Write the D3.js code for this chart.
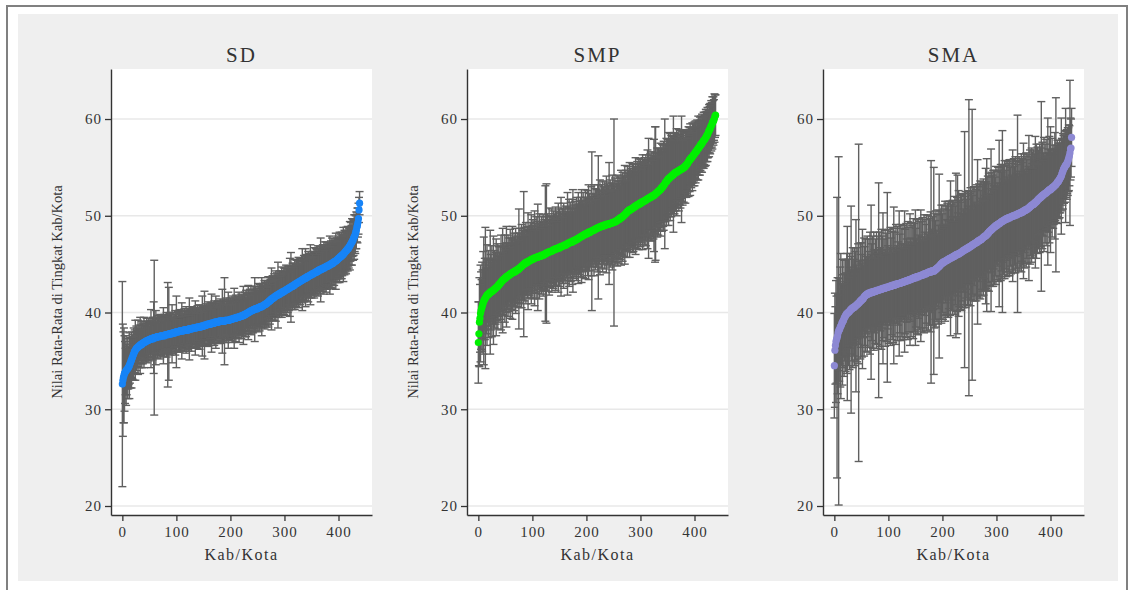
<!DOCTYPE html>
<html>
<head>
<meta charset="utf-8">
<script src="https://cdn.jsdelivr.net/npm/d3@7/dist/d3.min.js"></script>
<style>
body { margin: 0; background: #fff; }
text { font-family: "Liberation Serif", "Times New Roman", serif; fill: #333; }
</style>
</head>
<body>
<div id="chart"></div>
<script>
// rata-rata per kab/kota (sudah diurutkan) dan setengah lebar interval
var sdMean = [
32.6,33.0,33.3,33.5,33.7,33.8,33.9,34.0,34.1,34.1,34.2,34.3,34.4,34.5,34.7,34.8,35.0,35.1,35.3,35.4,
35.6,35.7,35.9,36.0,36.1,36.2,36.3,36.3,36.4,36.4,36.5,36.5,36.6,36.6,36.7,36.7,36.7,36.8,36.8,36.9,
36.9,36.9,37.0,37.0,37.0,37.1,37.1,37.1,37.1,37.2,37.2,37.2,37.2,37.3,37.3,37.3,37.3,37.3,37.4,37.4,
37.4,37.4,37.4,37.4,37.5,37.5,37.5,37.5,37.5,37.5,37.5,37.6,37.6,37.6,37.6,37.6,37.6,37.6,37.6,37.7,
37.7,37.7,37.7,37.7,37.7,37.7,37.8,37.8,37.8,37.8,37.8,37.8,37.8,37.9,37.9,37.9,37.9,37.9,37.9,38.0,
38.0,38.0,38.0,38.0,38.0,38.0,38.1,38.1,38.1,38.1,38.1,38.1,38.1,38.1,38.2,38.2,38.2,38.2,38.2,38.2,
38.2,38.2,38.2,38.3,38.3,38.3,38.3,38.3,38.3,38.3,38.4,38.4,38.4,38.4,38.4,38.4,38.4,38.4,38.5,38.5,
38.5,38.5,38.5,38.5,38.5,38.5,38.6,38.6,38.6,38.6,38.6,38.6,38.7,38.7,38.7,38.7,38.7,38.7,38.8,38.8,
38.8,38.8,38.8,38.8,38.8,38.9,38.9,38.9,38.9,38.9,38.9,39.0,39.0,39.0,39.0,39.0,39.0,39.0,39.0,39.1,
39.1,39.1,39.1,39.1,39.1,39.1,39.1,39.1,39.1,39.1,39.2,39.2,39.2,39.2,39.2,39.2,39.2,39.2,39.2,39.3,
39.3,39.3,39.3,39.3,39.3,39.4,39.4,39.4,39.4,39.4,39.4,39.5,39.5,39.5,39.5,39.5,39.5,39.6,39.6,39.6,
39.6,39.6,39.7,39.7,39.7,39.7,39.8,39.8,39.8,39.9,39.9,39.9,40.0,40.0,40.0,40.1,40.1,40.1,40.2,40.2,
40.2,40.2,40.3,40.3,40.3,40.3,40.4,40.4,40.4,40.4,40.4,40.5,40.5,40.5,40.5,40.6,40.6,40.6,40.6,40.7,
40.7,40.7,40.8,40.8,40.8,40.9,40.9,40.9,41.0,41.0,41.1,41.1,41.2,41.2,41.3,41.3,41.4,41.4,41.5,41.5,
41.5,41.6,41.6,41.7,41.7,41.7,41.8,41.8,41.8,41.9,41.9,41.9,42.0,42.0,42.0,42.1,42.1,42.1,42.2,42.2,
42.2,42.3,42.3,42.3,42.4,42.4,42.4,42.5,42.5,42.5,42.6,42.6,42.6,42.7,42.7,42.7,42.8,42.8,42.8,42.9,
42.9,43.0,43.0,43.0,43.1,43.1,43.1,43.2,43.2,43.2,43.3,43.3,43.3,43.4,43.4,43.4,43.5,43.5,43.5,43.6,
43.6,43.6,43.7,43.7,43.7,43.8,43.8,43.8,43.9,43.9,43.9,44.0,44.0,44.0,44.0,44.1,44.1,44.1,44.2,44.2,
44.2,44.3,44.3,44.3,44.4,44.4,44.4,44.4,44.5,44.5,44.5,44.6,44.6,44.6,44.6,44.7,44.7,44.7,44.8,44.8,
44.8,44.8,44.9,44.9,44.9,45.0,45.0,45.0,45.1,45.1,45.1,45.2,45.2,45.3,45.3,45.3,45.4,45.4,45.5,45.5,
45.6,45.6,45.7,45.7,45.8,45.8,45.9,45.9,46.0,46.0,46.1,46.2,46.2,46.3,46.4,46.4,46.5,46.6,46.6,46.7,
46.8,46.9,47.0,47.1,47.2,47.3,47.4,47.5,47.7,47.8,47.9,48.1,48.3,48.5,48.8,49.0,49.3,49.7,50.6,51.3];
var sdErr = [
10.6,5.8,4.7,4.9,3.9,3.2,2.4,3.6,2.6,2.0,3.1,2.2,1.8,3.4,2.0,2.6,1.7,2.9,2.1,2.3,
1.9,2.7,1.6,2.2,3.1,1.8,2.3,1.5,2.0,2.8,1.7,2.2,1.5,2.9,1.6,2.0,2.4,1.5,2.1,1.8,
2.6,1.7,1.5,2.1,1.9,2.3,1.4,2.0,1.7,2.2,1.4,2.0,1.8,3.0,1.5,1.9,2.2,1.6,3.7,8.0,
1.6,2.1,2.8,1.5,1.9,2.2,1.6,2.0,1.8,1.4,2.3,1.7,2.0,1.5,2.1,1.6,2.9,1.8,2.2,1.5,
2.0,1.7,2.3,1.4,5.4,1.9,4.8,2.1,1.6,2.2,1.5,2.0,3.0,1.6,2.1,1.5,1.9,1.4,2.3,2.0,
3.7,1.6,1.5,2.1,1.9,1.5,2.2,1.4,2.0,1.7,2.9,1.5,2.1,1.8,1.6,2.2,1.4,1.9,2.4,1.7,
2.0,1.5,2.2,1.7,3.2,1.4,2.0,1.6,2.3,1.9,1.5,2.1,1.7,2.0,1.6,2.8,1.5,2.0,1.7,2.2,
1.6,2.0,1.4,2.3,1.9,1.6,2.1,1.5,3.1,1.8,2.0,1.4,3.5,1.9,1.6,2.2,1.5,2.0,1.7,2.3,
1.6,2.0,1.5,2.2,1.8,3.0,1.4,2.1,1.6,2.0,2.3,1.5,1.9,2.7,1.7,2.1,1.5,2.2,1.6,2.0,
1.8,2.3,1.5,2.1,1.7,3.3,1.6,2.0,2.2,4.5,1.7,1.5,2.3,1.9,2.1,1.6,2.9,1.5,2.0,1.8,
2.2,1.6,2.0,2.4,1.5,2.1,1.8,3.1,1.6,2.0,2.4,1.7,2.1,1.5,2.2,1.8,2.6,1.6,2.0,1.8,
2.3,1.5,2.1,1.8,3.0,1.6,2.0,2.3,1.7,2.4,1.5,2.1,1.9,2.8,1.6,2.0,2.3,1.7,2.5,1.6,
2.2,1.8,2.4,1.6,2.0,3.3,1.7,2.3,1.6,2.1,1.8,2.5,1.6,2.0,2.4,1.7,2.1,1.6,3.0,1.9,
2.3,1.7,2.0,2.5,1.6,2.2,2.4,1.8,2.3,1.6,2.6,2.0,1.7,2.4,2.1,1.6,3.2,1.8,2.3,2.0,
1.8,2.4,2.1,1.7,2.6,2.0,2.3,1.8,3.4,1.9,2.1,2.4,1.7,2.3,2.0,2.6,1.8,2.1,1.9,2.4,
2.0,2.3,1.8,2.6,2.1,1.9,2.4,1.7,2.3,2.0,3.0,1.8,3.6,2.1,1.9,2.4,2.0,2.3,1.8,2.6,
2.1,1.9,2.4,2.0,2.3,1.8,2.6,2.1,1.9,2.4,1.7,2.3,2.0,3.2,1.9,2.1,2.4,1.8,2.3,3.0,
2.0,2.4,1.9,2.1,2.6,1.8,2.3,2.0,3.1,1.9,2.4,2.1,1.7,2.3,2.0,2.6,1.9,2.1,2.4,1.8,
2.3,2.0,2.6,1.9,2.1,2.4,1.8,3.3,2.0,2.3,1.9,2.4,2.1,2.7,1.8,2.3,2.0,2.6,1.9,2.1,
2.4,1.9,2.3,2.0,3.0,1.8,2.4,2.1,2.6,1.9,2.3,2.0,2.4,1.8,2.1,2.9,1.9,2.3,2.0,2.4,
2.1,1.9,2.6,2.0,2.3,1.8,2.4,2.1,1.9,2.8,2.0,2.3,1.8,2.1,2.4,1.9,2.0,2.3,1.8,2.1,
1.9,2.5,1.7,2.2,1.8,2.4,1.6,2.1,1.8,2.3,1.6,2.0,1.7,1.9,1.5,1.8,1.5,1.6,1.3,1.2];

var smpMean = [
36.9,37.8,39.0,39.4,39.9,40.2,40.4,40.6,40.8,41.0,41.2,41.3,41.4,41.5,41.6,41.7,41.8,41.8,41.9,41.9,
42.0,42.0,42.1,42.1,42.2,42.2,42.2,42.3,42.3,42.4,42.4,42.5,42.5,42.6,42.6,42.7,42.7,42.8,42.9,42.9,
43.0,43.1,43.1,43.2,43.3,43.3,43.4,43.4,43.5,43.5,43.6,43.6,43.7,43.7,43.8,43.8,43.8,43.9,43.9,44.0,
44.0,44.0,44.1,44.1,44.1,44.2,44.2,44.2,44.3,44.3,44.3,44.4,44.4,44.4,44.5,44.5,44.6,44.6,44.7,44.7,
44.8,44.8,44.9,44.9,45.0,45.0,45.1,45.1,45.1,45.2,45.2,45.2,45.3,45.3,45.3,45.4,45.4,45.4,45.5,45.5,
45.5,45.5,45.6,45.6,45.6,45.6,45.7,45.7,45.7,45.7,45.7,45.8,45.8,45.8,45.8,45.8,45.9,45.9,45.9,45.9,
45.9,46.0,46.0,46.0,46.1,46.1,46.1,46.2,46.2,46.2,46.2,46.3,46.3,46.3,46.3,46.3,46.4,46.4,46.4,46.5,
46.5,46.5,46.5,46.6,46.6,46.6,46.6,46.6,46.7,46.7,46.7,46.7,46.8,46.8,46.8,46.8,46.9,46.9,46.9,46.9,
47.0,47.0,47.0,47.0,47.1,47.1,47.1,47.2,47.2,47.2,47.2,47.3,47.3,47.3,47.3,47.4,47.4,47.4,47.4,47.5,
47.5,47.5,47.6,47.6,47.6,47.7,47.7,47.7,47.8,47.8,47.8,47.9,47.9,47.9,48.0,48.0,48.0,48.1,48.1,48.1,
48.1,48.2,48.2,48.2,48.3,48.3,48.3,48.3,48.4,48.4,48.4,48.5,48.5,48.5,48.5,48.6,48.6,48.6,48.7,48.7,
48.7,48.7,48.8,48.8,48.8,48.8,48.9,48.9,48.9,48.9,48.9,49.0,49.0,49.0,49.0,49.0,49.1,49.1,49.1,49.1,
49.1,49.1,49.2,49.2,49.2,49.2,49.2,49.3,49.3,49.3,49.3,49.3,49.4,49.4,49.4,49.4,49.5,49.5,49.6,49.6,
49.6,49.7,49.7,49.8,49.8,49.8,49.9,49.9,50.0,50.0,50.1,50.1,50.2,50.2,50.3,50.4,50.4,50.5,50.5,50.6,
50.6,50.6,50.7,50.7,50.7,50.8,50.8,50.8,50.9,50.9,51.0,51.0,51.0,51.1,51.1,51.1,51.2,51.2,51.2,51.3,
51.3,51.3,51.4,51.4,51.4,51.5,51.5,51.5,51.6,51.6,51.6,51.7,51.7,51.7,51.8,51.8,51.8,51.9,51.9,51.9,
52.0,52.0,52.0,52.1,52.1,52.1,52.2,52.2,52.3,52.3,52.4,52.4,52.5,52.5,52.6,52.6,52.7,52.7,52.8,52.9,
52.9,53.0,53.1,53.1,53.2,53.3,53.4,53.5,53.5,53.6,53.7,53.8,53.8,53.9,53.9,54.0,54.0,54.1,54.1,54.2,
54.2,54.3,54.3,54.4,54.4,54.5,54.5,54.5,54.6,54.6,54.6,54.7,54.7,54.7,54.8,54.8,54.8,54.9,54.9,54.9,
55.0,55.0,55.1,55.1,55.2,55.3,55.3,55.4,55.5,55.6,55.7,55.8,55.8,55.9,56.0,56.0,56.1,56.2,56.3,56.3,
56.4,56.5,56.6,56.6,56.7,56.8,56.9,57.0,57.0,57.1,57.2,57.3,57.4,57.4,57.5,57.6,57.7,57.8,57.8,57.9,
58.0,58.1,58.2,58.3,58.4,58.5,58.7,58.8,58.9,59.0,59.2,59.3,59.4,59.6,59.7,59.8,59.9,60.1,60.3,60.4];
var smpErr = [
4.2,3.3,4.6,3.5,5.0,4.0,3.0,4.6,3.6,5.3,6.6,3.1,4.2,7.3,3.0,3.9,5.2,2.8,3.6,4.5,
3.4,2.9,6.4,3.9,3.0,4.7,3.4,2.8,5.6,3.2,4.0,2.9,3.7,5.0,2.8,3.5,4.4,3.0,3.9,3.3,
2.9,3.8,4.9,3.0,3.5,5.4,2.8,3.7,3.2,4.5,2.9,3.6,5.2,3.0,3.4,4.2,3.1,3.8,2.8,4.6,
3.2,3.7,2.9,4.8,3.4,3.0,4.0,3.6,2.8,4.4,3.3,3.0,3.8,3.5,2.9,6.2,3.6,4.1,3.0,3.4,
4.3,3.0,3.6,2.9,7.5,3.8,3.2,3.0,4.2,3.4,2.8,3.7,5.0,3.1,3.5,2.9,3.9,3.2,4.6,3.0,
3.5,4.1,2.9,3.3,4.9,3.6,3.0,4.2,2.8,3.7,5.5,3.1,3.4,4.4,2.9,3.6,3.2,4.0,3.0,3.5,
4.2,2.9,3.6,3.2,7.0,3.8,7.2,3.0,4.0,3.4,2.8,4.5,3.2,3.7,3.0,3.6,4.3,3.1,3.4,4.0,
2.9,3.7,3.2,4.3,3.0,3.8,3.4,2.8,4.6,3.2,4.0,3.1,3.6,5.1,3.0,3.4,3.9,2.9,4.4,3.3,
3.7,3.1,4.0,3.4,2.9,5.3,3.8,3.2,4.5,3.0,3.6,4.1,3.1,3.4,4.4,5.3,3.0,3.7,3.3,4.0,
3.4,2.9,4.3,3.6,3.1,4.7,3.3,3.8,3.0,4.1,3.4,4.8,3.1,3.7,4.4,3.3,3.0,3.8,4.6,3.4,
3.8,3.1,4.4,3.4,4.9,3.3,4.0,3.0,3.6,4.6,8.2,3.4,3.8,3.1,4.7,3.6,3.3,4.2,3.0,4.0,
3.4,4.5,7.4,3.3,3.8,4.9,3.1,3.6,4.3,3.4,4.7,3.3,4.0,3.1,4.5,3.6,3.8,5.0,3.3,4.2,
3.6,4.0,6.3,3.4,4.5,3.3,4.2,3.8,4.9,3.4,4.0,10.7,3.6,4.5,3.3,4.2,3.8,4.7,3.4,4.0,
4.5,3.6,4.2,3.3,4.9,3.8,4.0,4.6,3.4,4.2,3.6,5.1,3.8,4.5,3.3,4.0,4.7,3.6,4.2,3.8,
4.9,3.4,4.2,4.0,3.6,4.6,3.8,4.5,3.3,4.2,3.6,5.0,4.0,3.4,4.5,3.8,4.2,4.7,3.6,4.0,
4.5,3.8,4.2,3.4,4.9,4.0,3.6,4.5,3.8,4.2,4.7,3.6,4.0,5.1,3.8,6.2,4.2,3.4,4.5,4.0,
3.8,4.6,4.2,3.6,4.5,5.8,4.0,7.0,6.9,4.2,3.6,4.6,4.0,4.5,3.8,4.2,3.4,4.8,3.8,4.0,
4.5,3.6,4.2,4.6,3.8,6.7,4.0,3.4,4.5,3.8,4.2,3.6,4.8,4.0,3.4,4.5,3.8,4.2,3.6,4.0,
3.4,6.0,3.8,4.2,3.1,4.0,3.6,4.5,3.0,3.8,3.4,4.2,3.1,3.6,4.0,3.0,5.5,3.4,3.8,2.9,
3.6,3.1,2.8,3.8,2.9,3.4,2.7,3.4,3.0,3.6,2.6,3.3,3.7,2.7,3.1,2.6,3.5,2.8,3.2,2.7,
3.3,2.6,3.2,2.8,2.5,3.1,2.7,3.3,2.8,2.5,3.0,2.6,2.9,2.4,3.0,2.6,2.4,2.9,2.5,2.8,
2.4,2.9,2.6,2.3,2.8,2.5,2.2,2.7,2.4,2.6,2.2,2.6,2.3,2.7,2.2,2.5,2.1,2.5,2.2,2.1];

var smaMean = [
34.5,36.1,36.6,37.0,37.2,37.4,37.6,37.9,38.1,38.2,38.3,38.5,38.6,38.7,38.9,39.0,39.1,39.2,39.4,39.5,
39.6,39.7,39.8,39.9,39.9,40.0,40.0,40.1,40.1,40.2,40.3,40.3,40.4,40.4,40.5,40.5,40.5,40.6,40.6,40.7,
40.7,40.8,40.8,40.9,40.9,41.0,41.0,41.1,41.2,41.2,41.3,41.3,41.4,41.4,41.5,41.6,41.7,41.7,41.8,41.8,
41.9,41.9,41.9,42.0,42.0,42.0,42.0,42.0,42.1,42.1,42.1,42.1,42.1,42.2,42.2,42.2,42.2,42.2,42.3,42.3,
42.3,42.3,42.3,42.3,42.4,42.4,42.4,42.4,42.4,42.5,42.5,42.5,42.5,42.5,42.5,42.6,42.6,42.6,42.6,42.6,
42.6,42.7,42.7,42.7,42.7,42.7,42.8,42.8,42.8,42.8,42.8,42.8,42.9,42.9,42.9,42.9,42.9,43.0,43.0,43.0,
43.0,43.0,43.0,43.1,43.1,43.1,43.1,43.1,43.2,43.2,43.2,43.2,43.2,43.3,43.3,43.3,43.3,43.3,43.4,43.4,
43.4,43.4,43.4,43.5,43.5,43.5,43.5,43.6,43.6,43.6,43.6,43.6,43.7,43.7,43.7,43.7,43.7,43.8,43.8,43.8,
43.8,43.8,43.9,43.9,43.9,43.9,44.0,44.0,44.0,44.0,44.0,44.1,44.1,44.1,44.1,44.2,44.2,44.2,44.2,44.2,
44.3,44.3,44.3,44.3,44.3,44.3,44.4,44.4,44.5,44.5,44.6,44.6,44.7,44.7,44.8,44.8,44.9,45.0,45.0,45.1,
45.1,45.2,45.2,45.2,45.3,45.3,45.3,45.4,45.4,45.4,45.5,45.5,45.5,45.6,45.6,45.6,45.6,45.7,45.7,45.7,
45.8,45.8,45.8,45.9,45.9,45.9,46.0,46.0,46.0,46.0,46.1,46.1,46.1,46.2,46.2,46.2,46.3,46.3,46.4,46.4,
46.4,46.5,46.5,46.5,46.6,46.6,46.6,46.7,46.7,46.7,46.8,46.8,46.8,46.9,46.9,47.0,47.0,47.0,47.1,47.1,
47.1,47.2,47.2,47.2,47.3,47.3,47.4,47.4,47.4,47.5,47.5,47.5,47.6,47.6,47.7,47.7,47.8,47.8,47.9,47.9,
47.9,48.0,48.0,48.1,48.2,48.2,48.3,48.4,48.4,48.5,48.5,48.6,48.6,48.7,48.7,48.8,48.8,48.9,48.9,49.0,
49.0,49.0,49.1,49.1,49.2,49.2,49.2,49.3,49.3,49.4,49.4,49.4,49.5,49.5,49.5,49.6,49.6,49.6,49.7,49.7,
49.7,49.7,49.8,49.8,49.8,49.8,49.9,49.9,49.9,49.9,50.0,50.0,50.0,50.0,50.0,50.1,50.1,50.1,50.1,50.2,
50.2,50.2,50.2,50.3,50.3,50.3,50.3,50.4,50.4,50.4,50.5,50.5,50.5,50.6,50.6,50.6,50.7,50.7,50.7,50.8,
50.8,50.9,50.9,51.0,51.0,51.1,51.1,51.1,51.2,51.2,51.3,51.3,51.4,51.4,51.5,51.5,51.6,51.7,51.7,51.8,
51.8,51.9,51.9,52.0,52.0,52.1,52.1,52.2,52.2,52.3,52.3,52.3,52.4,52.4,52.5,52.5,52.6,52.6,52.7,52.7,
52.7,52.8,52.8,52.9,52.9,53.0,53.0,53.1,53.1,53.2,53.2,53.3,53.4,53.5,53.5,53.6,53.7,53.8,53.9,54.0,
54.1,54.3,54.5,54.6,54.8,54.9,55.0,55.1,55.2,55.3,55.3,55.5,55.6,55.8,56.0,56.2,56.5,56.9,57.0,58.1];
var smaErr = [
5.4,5.9,4.0,6.3,4.5,14.5,6.0,3.9,18.0,5.3,3.6,6.2,7.5,4.2,3.5,6.5,4.8,3.8,6.0,4.5,
3.6,5.8,4.3,6.2,9.0,3.7,5.5,3.5,6.0,4.5,4.0,10.7,5.4,3.4,6.2,3.9,5.0,6.1,3.6,5.6,
8.9,4.1,5.9,3.6,6.2,16.4,4.3,3.5,6.0,4.8,3.8,5.9,7.2,4.0,3.4,6.1,5.1,3.7,5.8,4.0,
3.5,6.0,4.4,3.7,5.6,3.4,6.3,4.0,9.0,5.0,3.6,5.8,3.5,6.1,4.3,3.9,5.4,3.4,6.0,4.1,
3.8,5.6,11.1,3.6,5.9,4.3,3.4,6.2,4.0,5.4,7.8,3.7,5.1,3.5,6.0,3.9,5.6,3.5,9.8,4.3,
3.6,5.9,4.0,3.5,6.1,5.0,3.7,5.6,3.4,5.9,8.1,3.9,5.4,3.6,6.2,4.0,3.5,5.9,4.3,3.7,
7.5,5.1,3.5,6.0,4.0,5.6,3.6,5.9,3.9,3.4,7.3,5.4,3.7,5.9,4.3,3.5,6.1,4.0,5.4,3.6,
6.8,4.3,5.9,3.7,5.5,3.5,6.2,4.0,5.6,3.6,7.0,5.1,3.9,5.9,3.5,6.0,4.3,3.7,5.6,4.0,
6.8,3.6,5.5,5.9,3.9,3.5,6.1,4.3,5.6,3.6,5.1,6.0,4.0,3.5,5.9,3.9,5.5,3.7,6.2,11.5,
4.3,3.6,5.6,4.0,10.7,5.9,3.7,5.1,6.0,3.9,5.5,3.5,5.9,4.3,9.5,3.7,5.6,4.0,6.1,3.6,
5.1,5.9,3.9,5.5,3.6,6.2,4.3,5.6,3.7,5.9,4.0,6.0,5.1,3.9,5.9,8.0,4.3,5.5,3.7,5.9,
4.0,5.6,3.6,6.1,5.1,8.5,3.9,5.9,8.2,4.3,6.5,5.5,3.7,5.9,4.0,6.0,5.1,3.9,5.9,4.3,
5.6,12.2,4.0,6.0,5.1,3.7,5.9,4.3,5.9,15.3,3.9,5.5,6.1,4.0,5.6,14.0,5.1,3.6,5.9,4.3,
5.9,3.9,5.5,6.0,4.0,8.5,5.6,3.7,5.9,4.3,6.1,5.1,3.9,5.9,5.5,4.0,6.0,4.3,5.6,3.7,
7.0,5.5,7.9,4.0,5.9,5.1,6.1,3.9,5.6,4.3,8.4,5.9,4.0,5.5,6.0,4.3,5.9,3.9,5.1,6.1,
4.0,5.6,4.3,5.9,3.9,8.6,5.5,4.0,6.0,5.1,5.9,9.4,4.3,5.6,3.9,6.1,5.1,4.0,6.0,5.5,
4.3,5.9,3.9,5.6,6.0,4.0,5.1,5.9,4.3,5.5,6.8,3.9,5.9,5.1,4.0,6.0,5.5,4.3,5.6,10.2,
5.1,3.9,5.9,4.3,5.6,4.0,6.1,5.1,5.5,3.9,7.0,5.9,4.3,5.5,4.0,5.9,5.1,3.7,5.6,4.3,
7.5,4.0,5.9,5.1,3.9,5.9,4.3,5.5,3.7,5.6,5.1,4.0,6.8,4.3,5.9,3.9,5.5,3.6,5.1,4.0,
5.6,3.7,5.1,9.8,4.0,5.5,3.6,4.3,5.9,3.9,5.1,3.7,5.5,4.0,3.6,7.6,4.3,3.9,5.5,3.6,
6.5,4.0,3.7,5.1,3.5,4.3,3.9,3.6,5.5,3.7,9.0,4.0,3.5,4.3,3.6,3.9,3.4,4.0,3.6,3.5,
6.0,3.7,3.4,3.9,3.5,3.6,3.3,3.7,5.9,3.4,3.6,3.2,3.5,3.3,3.4,3.1,7.5,3.2,3.0,3.0];

var titles = ["SD", "SMP", "SMA"];
var colors = ["#1784f7", "#00f000", "#8d89d3"];
var yTicks = [20, 30, 40, 50, 60];
var xTicks = [0, 100, 200, 300, 400];
var yLabel = "Nilai Rata-Rata di Tingkat Kab/Kota";
var xLabel = "Kab/Kota";

var panels = [
    {title: titles[0], mean: sdMean, err: sdErr, color: colors[0], ylab: true},
    {title: titles[1], mean: smpMean, err: smpErr, color: colors[1], ylab: true},
    {title: titles[2], mean: smaMean, err: smaErr, color: colors[2], ylab: false}
];

var W = 1128, H = 590;
var plotLeft = [111, 467, 823],
    plotW = 261,
    plotTop = 69,
    plotBottom = 515;

var svg = d3.select("#chart").append("svg")
    .attr("width", W)
    .attr("height", H);

// bingkai luar + latar abu-abu
svg.append("rect").attr("x", 7).attr("y", 6).attr("width", 1120).attr("height", 600)
    .attr("fill", "#fff").attr("stroke", "#808080").attr("stroke-width", 2);
svg.append("rect").attr("x", 18).attr("y", 14).attr("width", 1100).attr("height", 567)
    .attr("fill", "#efefef");

var y = d3.scaleLinear()
    .domain([19.07, 65.17])
    .range([plotBottom, plotTop]);

panels.forEach(function(p, k){
    var x0 = plotLeft[k];
    var x = d3.scaleLinear()
        .domain([-21, 462])
        .range([x0, x0 + plotW]);
    var g = svg.append("g");

    g.append("rect")
        .attr("x", x0).attr("y", plotTop)
        .attr("width", plotW).attr("height", plotBottom - plotTop)
        .attr("fill", "#fff");

    g.selectAll("line.grid").data(yTicks).enter()
        .append("line")
        .attr("class", "grid")
        .attr("x1", x0).attr("x2", x0 + plotW)
        .attr("y1", d => y(d)).attr("y2", d => y(d))
        .attr("stroke", "#e8e8e8")
        .attr("stroke-width", 1.5);

    var pts = p.mean.map(function(m, i){ return {i: i, m: m, e: p.err[i]}; });

    var bars = g.append("g")
        .attr("stroke", "#606060")
        .attr("stroke-width", 1.4);
    bars.selectAll("line.v").data(pts).enter()
        .append("line")
        .attr("x1", d => x(d.i)).attr("x2", d => x(d.i))
        .attr("y1", d => y(d.m - d.e)).attr("y2", d => y(d.m + d.e));
    bars.selectAll("line.lo").data(pts).enter()
        .append("line")
        .attr("x1", d => x(d.i) - 4).attr("x2", d => x(d.i) + 4)
        .attr("y1", d => y(d.m - d.e)).attr("y2", d => y(d.m - d.e));
    bars.selectAll("line.hi").data(pts).enter()
        .append("line")
        .attr("x1", d => x(d.i) - 4).attr("x2", d => x(d.i) + 4)
        .attr("y1", d => y(d.m + d.e)).attr("y2", d => y(d.m + d.e));

    g.append("g").selectAll("circle").data(pts).enter()
        .append("circle")
        .attr("cx", d => x(d.i))
        .attr("cy", d => y(d.m))
        .attr("r", 3.6)
        .attr("fill", p.color);

    var yAxis = g.append("g")
        .attr("transform", "translate(" + x0 + ",0)")
        .call(d3.axisLeft(y).tickValues(yTicks).tickSize(6).tickSizeOuter(0).tickPadding(3));
    var xAxis = g.append("g")
        .attr("transform", "translate(0," + plotBottom + ")")
        .call(d3.axisBottom(x).tickValues(xTicks).tickSize(6).tickSizeOuter(0).tickPadding(5));
    [yAxis, xAxis].forEach(function(a){
        a.select(".domain").attr("stroke", "#333").attr("stroke-width", 1.4);
        a.selectAll(".tick line").attr("stroke", "#333").attr("stroke-width", 1.3);
        a.selectAll(".tick text")
            .attr("fill", "#333")
            .style("font-family", "'Liberation Serif', serif")
            .style("font-size", "15px")
            .style("letter-spacing", "1px");
    });

    g.append("text")
        .attr("x", x0 + plotW / 2)
        .attr("y", 62)
        .attr("text-anchor", "middle")
        .style("font-size", "21px")
        .style("letter-spacing", "2px")
        .text(p.title);

    g.append("text")
        .attr("x", x0 + plotW / 2)
        .attr("y", 560)
        .attr("text-anchor", "middle")
        .style("font-size", "16px")
        .style("letter-spacing", "1.5px")
        .text(xLabel);

    if (p.ylab) {
        g.append("text")
            .attr("transform", "translate(" + (x0 - 49) + "," + ((plotTop + plotBottom) / 2) + ") rotate(-90)")
            .attr("text-anchor", "middle")
            .style("font-size", "14.5px")
            .text(yLabel);
    }
});
</script>
</body>
</html>
